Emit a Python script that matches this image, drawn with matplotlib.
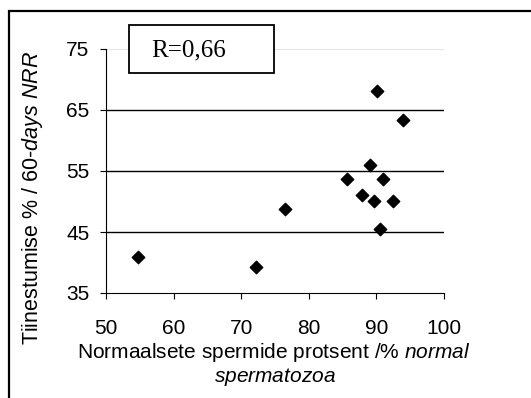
import matplotlib
matplotlib.use("Agg")
import matplotlib.pyplot as plt
from matplotlib.patches import Rectangle

plt.rcParams['font.family'] = ['Liberation Sans', 'DejaVu Sans']
plt.rcParams['mathtext.fontset'] = 'custom'
plt.rcParams['mathtext.rm'] = 'Liberation Sans'
plt.rcParams['mathtext.it'] = 'Liberation Sans:italic'

# normal spermatozoa % vs 60-days NRR
normal_pct = [54.7, 72.2, 76.5, 85.6, 87.8, 89.0, 89.6, 90.1, 90.5, 91.0, 92.5, 94.0]
nrr = [40.9, 39.3, 48.8, 53.7, 51.1, 56.0, 50.1, 68.1, 45.5, 53.7, 50.1, 63.3]
x_ticks = [50, 60, 70, 80, 90, 100]
y_ticks = [35, 45, 55, 65, 75]
r_label = "R=0,66"

W, H = 531, 398
fig = plt.figure(figsize=(W / 100, H / 100), dpi=100)
ax = fig.add_axes([106 / W, 1 - 293 / H, 338 / W, 244 / H])


def px(x, y):
    # pixel position (from top-left) -> figure fraction
    return x / W, 1 - y / H


# outer frame (runs off right and bottom edge)
fig.patches.append(Rectangle((9 / W, -0.1), 1.2, 1 - 11 / H + 0.1,
                             transform=fig.transFigure, fill=False,
                             edgecolor='black', linewidth=1.6, zorder=0))

for v in y_ticks[1:-1]:
    ax.axhline(v, color='black', linewidth=1.0, zorder=1)
ax.axhline(y_ticks[-1], color='#e6e6e6', linewidth=0.8, zorder=1)

ax.scatter(normal_pct, nrr, marker='D', s=40, color='black', zorder=3,
           clip_on=False)

ax.set_xlim(x_ticks[0], x_ticks[-1])
ax.set_ylim(y_ticks[0], y_ticks[-1])
ax.set_xticks(x_ticks)
ax.set_yticks(y_ticks)
ax.tick_params(direction='out', length=4, width=0.8, labelsize=15)
ax.tick_params(axis='y', pad=8)
ax.tick_params(axis='x', pad=15)
for s in ['top', 'right']:
    ax.spines[s].set_visible(False)
for s in ['left', 'bottom']:
    ax.spines[s].set_linewidth(0.8)

fig.text(*px(274, 352), r"Normaalsete spermide protsent /% $\it{normal}$",
         fontsize=15, ha='center', va='center')
fig.text(*px(275, 377), r"$\it{spermatozoa}$",
         fontsize=15, ha='center', va='center')
fig.text(*px(33, 198), r"Tiinestumise % / $\it{60}$-$\it{days\ NRR}$",
         fontsize=15.5, ha='center', va='center', rotation=90)

# R box
x0, y0 = px(129, 73)
x1, y1 = px(274, 25)
fig.patches.append(Rectangle((x0, y0), x1 - x0, y1 - y0,
                             transform=fig.transFigure, facecolor='white',
                             edgecolor='black', linewidth=1.3, zorder=5))
fig.text(*px(189, 50), r_label, fontsize=18, family='Liberation Serif',
         ha='center', va='center', zorder=6)

fig.savefig("out.png", dpi=100)
